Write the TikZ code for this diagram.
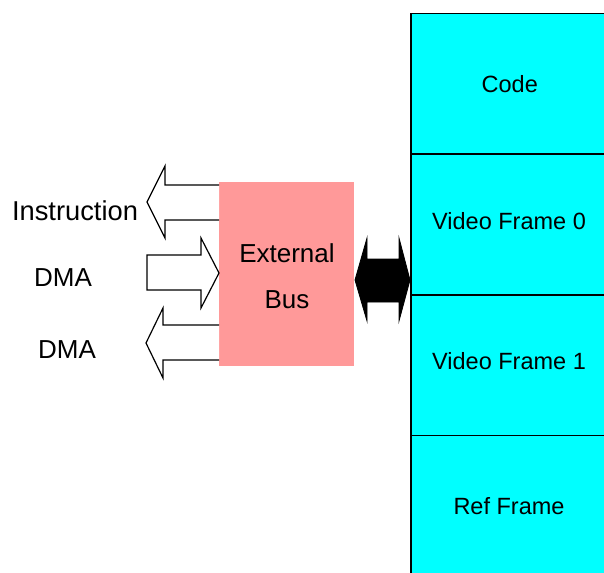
\documentclass[tikz,border=0pt]{standalone}
\usepackage{fontspec}
\setmainfont{Liberation Sans}
\definecolor{buspink}{HTML}{FF9999}
\definecolor{memcyan}{HTML}{00FFFF}
\begin{document}
\begin{tikzpicture}[x=1pt,y=-1pt,
  memcell/.style={draw=black,line width=1.5pt,fill=memcyan,minimum width=198pt,minimum height=140.5pt,inner sep=0pt,anchor=north west,font=\fontsize{23.5}{28}\selectfont},
  memtext/.style={font=\fontsize{23.5}{28}\selectfont,inner sep=0pt},
  lbl/.style={font=\fontsize{26}{30}\selectfont,inner sep=0pt},
  hollowarrow/.style={draw=black,line width=1.2pt,fill=white,line join=miter},
  fatarrow/.style={draw=black,fill=black,line width=0.8pt}]
\useasboundingbox (0,0) rectangle (604,572);
% memory
\node[memcell] (code) at (410,13) {Code};
\node[memcell] (vf0) at (410,153.5) {};
\node[memcell] (vf1) at (410,294) {};
\node[memcell] (ref) at (410,434.5) {};
\node[memtext] (vf0t) at (509,221) {Video Frame 0};
\node[memtext] (vf1t) at (509,361) {Video Frame 1};
\node[memtext] (reft) at (509,506) {Ref Frame};
% external bus
\node[fill=buspink,minimum width=135pt,minimum height=184pt,inner sep=0pt,anchor=north west] (bus) at (219,182) {};
\node[lbl] (ext) at (287,253.5) {External};
\node[lbl] (bust) at (287,300) {Bus};
% hollow arrows
\draw[hollowarrow] (219,185) -- (165,185) -- (165,166) -- (147,202) -- (165,238) -- (165,220) -- (219,220);
\draw[hollowarrow] (201,255) -- (147,255) -- (147,290) -- (201,290) -- (201,308) -- (219,273) -- (201,238) -- cycle;
\draw[hollowarrow] (219,325) -- (163,325) -- (163,308) -- (146,343) -- (163,378) -- (163,360) -- (219,360);
% double arrow
\fill[fatarrow] (355,280) -- (367,238) -- (367,259) -- (399,259) -- (399,238) -- (410,280) -- (399,321) -- (399,302) -- (367,302) -- (367,321) -- cycle;
% labels
\node[lbl,font=\fontsize{27.3}{31}\selectfont] (instr) at (75,211) {Instruction};
\node[lbl] (dma1) at (63,278) {DMA};
\node[lbl] (dma2) at (67,350) {DMA};
\end{tikzpicture}
\end{document}
